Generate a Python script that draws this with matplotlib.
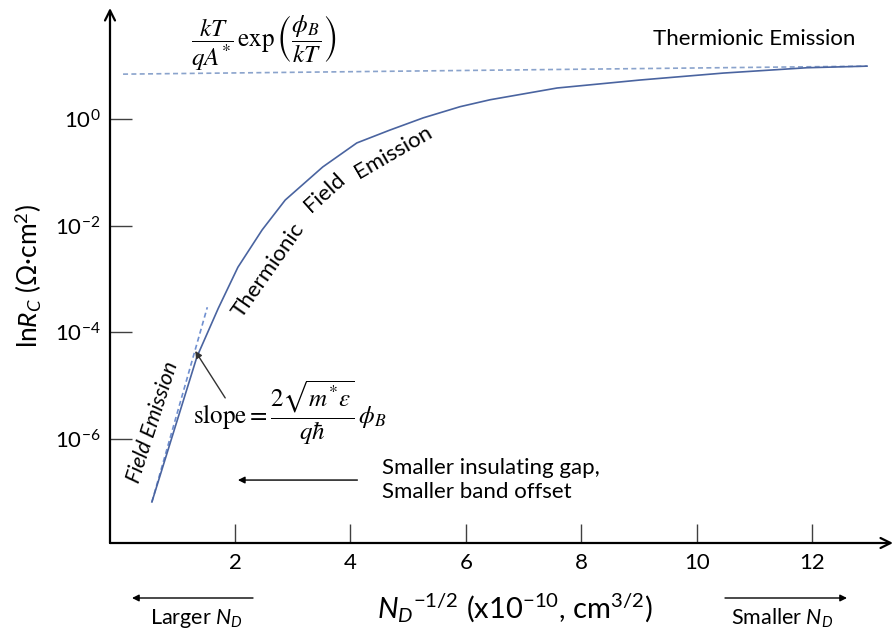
import numpy as np
import matplotlib
matplotlib.use('Agg')
import matplotlib.pyplot as plt

plt.rcParams['font.family'] = ['Lato', 'DejaVu Sans']
plt.rcParams['mathtext.fontset'] = 'custom'
plt.rcParams['mathtext.rm'] = 'Lato'
plt.rcParams['mathtext.it'] = 'Lato:italic'

# Curve: x = N_D^-1/2 (x1e-10 cm^3/2), y as log10(R_C)
curve_x = [0.56, 1.34, 1.71, 2.05, 2.47, 2.87, 3.52, 4.11, 4.68, 5.26, 5.90, 6.42, 7.58, 9.02, 10.46, 11.91, 12.95]
curve_log = [-7.18, -4.46, -3.55, -2.78, -2.08, -1.52, -0.90, -0.45, -0.21, 0.02, 0.23, 0.36, 0.58, 0.73, 0.86, 0.96, 0.99]
# Field emission asymptote and thermionic emission limit
fe_x = [0.56, 1.52]
fe_log = [-7.18, -3.53]
te_x = [0.06, 12.95]
te_log = [0.84, 0.99]
xticks = [2, 4, 6, 8, 10, 12]
yticks_exp = [0, -2, -4, -6]

fig = plt.figure(figsize=(8.95, 6.37), dpi=100)
ax = fig.add_axes([110 / 895, 1 - 543 / 637, (893 - 110) / 895, (543 - 8) / 637])
ax.set_yscale('log')
ax.set_xlim(-0.166, 13.40)
ax.set_ylim(10 ** -7.95, 10 ** 2.08)

ax.plot(curve_x, 10 ** np.array(curve_log), color='#4a64a0', lw=1.2, zorder=3)
ax.plot(fe_x, 10 ** np.array(fe_log), color='#6f8fd0', lw=1.2, ls=(0, (3, 2)), zorder=2)
ax.plot(te_x, 10 ** np.array(te_log), color='#8aa3cc', lw=1.2, ls=(0, (3, 2)), zorder=2)

for s in ax.spines.values():
    s.set_visible(False)
ax.annotate('', xy=(1, 0), xytext=(0, 0), xycoords='axes fraction',
            arrowprops=dict(arrowstyle='->', lw=1.6, color='black', mutation_scale=18, shrinkA=0, shrinkB=0))
ax.annotate('', xy=(0, 1), xytext=(0, 0), xycoords='axes fraction',
            arrowprops=dict(arrowstyle='->', lw=1.6, color='black', mutation_scale=18, shrinkA=0, shrinkB=0))

ax.set_xticks(xticks)
ax.set_xticklabels([str(t) for t in xticks])
ax.set_yticks([10.0 ** e for e in yticks_exp])
ax.set_yticklabels([r'10$^{\mathregular{%d}}$' % e for e in yticks_exp])
ax.minorticks_off()
ax.tick_params(axis='x', direction='in', length=14, width=1, color='#404040', pad=7, labelsize=16)
ax.tick_params(axis='y', direction='in', length=16, width=1, color='#404040', pad=7, labelsize=16)

ax.set_ylabel('ln$R_C$ (Ω·cm$^{\\mathregular{2}}$)', fontsize=19, labelpad=8)
fig.text(515 / 895, 1 - 608 / 637, r'$N_D$$^{\mathregular{-1/2}}$ (x10$^{\mathregular{-10}}$, cm$^{\mathregular{3/2}}$)',
         fontsize=21, ha='center', va='center')

# Region labels
ax.text(11.0, 10 ** 1.50, 'Thermionic Emission', fontsize=16, ha='center', va='center')
ax.text(2.50, 10 ** 1.42, r'$\dfrac{kT}{qA^{*}}\,\exp\left(\dfrac{\phi_B}{kT}\right)$',
        fontsize=18, ha='center', va='center', math_fontfamily='stix')
ax.text(0.58, 10 ** -5.68, 'Field Emission', fontsize=15.5, ha='center', va='center',
        rotation=72, style='italic')
ax.text(2.57, 10 ** -2.83, 'Thermionic', fontsize=16, ha='center', va='center', rotation=55)
ax.text(3.56, 10 ** -1.39, 'Field', fontsize=16, ha='center', va='center', rotation=42)
ax.text(4.74, 10 ** -0.62, 'Emission', fontsize=16, ha='center', va='center', rotation=30)

# Slope of the field emission branch
ax.text(2.95, 10 ** -5.51, r'$\mathrm{slope} = \dfrac{2\sqrt{m^{*}\varepsilon}}{q\hbar}\,\phi_B$',
        fontsize=18, ha='center', va='center', math_fontfamily='stix')
ax.annotate('', xy=(1.31, 10 ** -4.35), xytext=(1.83, 10 ** -5.23),
            arrowprops=dict(arrowstyle='-|>', color='#333333', lw=1, mutation_scale=10,
                            shrinkA=0, shrinkB=0))

ax.text(4.55, 10 ** -6.77, 'Smaller insulating gap,\nSmaller band offset', fontsize=16,
        ha='left', va='center', linespacing=1.25)
ax.annotate('', xy=(2.05, 10 ** -6.77), xytext=(4.12, 10 ** -6.77),
            arrowprops=dict(arrowstyle='-|>', color='black', lw=1, mutation_scale=10, shrinkA=0, shrinkB=0))

# Direction hints under the x axis
fig.text(196 / 895, 1 - 618 / 637, r'Larger $N_D$', fontsize=15.5, ha='center', va='center')
ax.annotate('', xy=(132 / 895, 1 - 598 / 637), xytext=(253 / 895, 1 - 598 / 637),
            xycoords='figure fraction',
            arrowprops=dict(arrowstyle='-|>', color='black', lw=1, mutation_scale=10, shrinkA=0, shrinkB=0))
fig.text(782 / 895, 1 - 618 / 637, r'Smaller $N_D$', fontsize=15.5, ha='center', va='center')
ax.annotate('', xy=(847 / 895, 1 - 598 / 637), xytext=(725 / 895, 1 - 598 / 637),
            xycoords='figure fraction',
            arrowprops=dict(arrowstyle='-|>', color='black', lw=1, mutation_scale=10, shrinkA=0, shrinkB=0))

fig.savefig('out.png', dpi=100)
